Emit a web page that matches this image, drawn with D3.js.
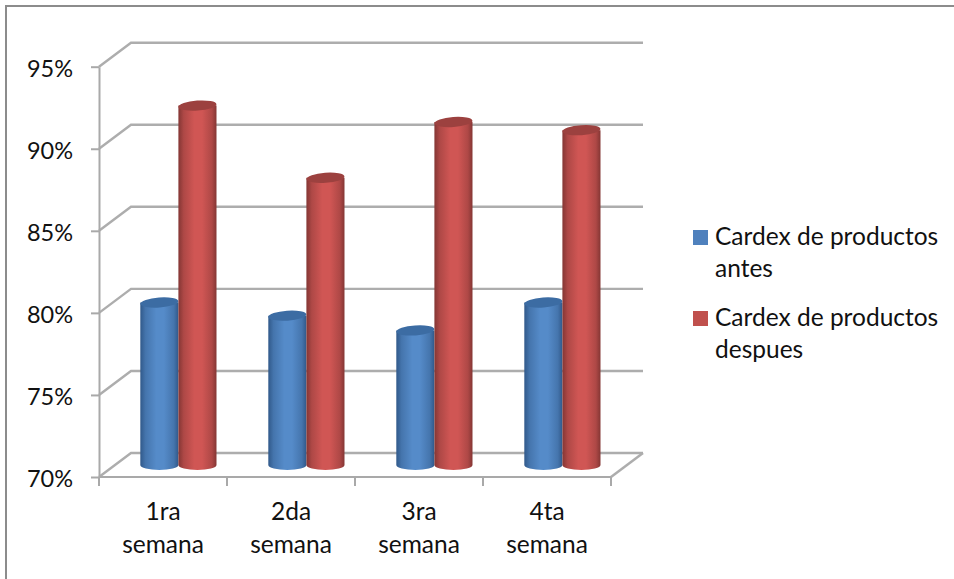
<!DOCTYPE html>
<html lang="es">
<head>
<meta charset="utf-8">
<script src="https://cdn.jsdelivr.net/npm/d3@7"></script>
<style>
  html, body { margin: 0; padding: 0; background: #fff; }
  svg { display: block; }
  text { font-family: Lato, "Open Sans", sans-serif; fill: #111; }
</style>
</head>
<body>
<svg id="chart" width="954" height="579"></svg>
<script>
// Weekly share of product cards, before and after
const categories = ["1ra semana", "2da semana", "3ra semana", "4ta semana"];
const seriesNames = ["Cardex de productos antes", "Cardex de productos despues"];
const antes = [79.9, 79.1, 78.2, 79.9];
const despues = [91.9, 87.5, 90.9, 90.4];
const yTicks = [70, 75, 80, 85, 90, 95];

const legendLines = [["Cardex de productos", "antes"], ["Cardex de productos", "despues"]];
const fillMid = ["#558bc9", "#d05654"];
const fillEdge = ["#31598a", "#843634"];
const fillTop = ["#3c6ca3", "#9c413f"];

const svg = d3.select("#chart");
const plot = { left: 99, right: 611, top: 66.7, bottom: 477 };
const depth = { x: 32, y: -24 };

const y = d3.scaleLinear().domain([70, 95]).range([plot.bottom, plot.top]);
const x0 = d3.scaleBand().domain(categories).range([plot.left, plot.right]);
const x1 = d3.scaleBand().domain(seriesNames).range([0, x0.bandwidth()])
  .paddingInner(0).paddingOuter(0.68);

// Chart frame: only the left and top edges are visible
svg.append("path")
  .attr("d", "M6,579V6H954")
  .attr("fill", "none").attr("stroke", "#8c8c8c").attr("stroke-width", 2);

// Horizontal cylinder shading
const defs = svg.append("defs");
seriesNames.forEach((_, i) => {
  const g = defs.append("linearGradient").attr("id", "cyl" + i);
  [[0, fillEdge[i]], [0.14, d3.interpolateRgb(fillEdge[i], fillMid[i])(0.55)],
   [0.42, fillMid[i]], [0.62, fillMid[i]],
   [0.88, d3.interpolateRgb(fillEdge[i], fillMid[i])(0.55)], [1, fillEdge[i]]]
    .forEach(([o, c]) => g.append("stop").attr("offset", o).attr("stop-color", c));
});

// Back wall gridlines with their side-wall diagonals
const grid = svg.append("g").attr("fill", "none").attr("stroke", "#adadad").attr("stroke-width", 2.4);
grid.selectAll("path").data(yTicks).join("path")
  .attr("d", d => `M${plot.left},${y(d)}L${plot.left + depth.x},${y(d) + depth.y}H${plot.right + depth.x}`);
grid.append("path")
  .attr("d", `M${plot.right},${plot.bottom}L${plot.right + depth.x},${plot.bottom + depth.y}`);

// Axes
const yAxis = d3.axisLeft(y).tickValues(yTicks).tickFormat(d => d + "%").tickSize(8).tickSizeOuter(0);
const xAxis = d3.axisBottom(x0).tickSize(0).tickSizeOuter(0);

const gy = svg.append("g").attr("transform", `translate(${plot.left},0)`).call(yAxis);
gy.selectAll("text").attr("font-size", 23.5).attr("x", -26).attr("dy", "0.4em");

const gx = svg.append("g").attr("transform", `translate(0,${plot.bottom})`).call(xAxis);
gx.selectAll("text").each(function (d) {
  const words = d.split(" ");
  const t = d3.select(this).text(null).attr("font-size", 24.5).attr("y", 0).attr("dy", null);
  words.forEach((w, i) => t.append("tspan").attr("x", 0).attr("y", 43 + i * 33).text(w));
});

// Category separators sit on the band edges, not the band centres
gx.selectAll("line.sep").data(d3.range(categories.length + 1)).join("line")
  .attr("class", "sep")
  .attr("x1", i => plot.left + i * x0.bandwidth()).attr("x2", i => plot.left + i * x0.bandwidth())
  .attr("y1", 0).attr("y2", 9);
gx.selectAll(".domain").remove();
gx.append("line").attr("class", "sep-base").attr("x1", plot.left).attr("x2", plot.right).attr("y1", 0).attr("y2", 0);

svg.selectAll(".domain, .tick line, line.sep, line.sep-base")
  .attr("stroke", "#a9a9a9").attr("stroke-width", 2);
gx.selectAll(".tick line").remove();

// Cylinders stand on the middle of the floor
const rowsOf = [antes, despues];
const floorY = plot.bottom + depth.y / 2;
const ry = 5;
const bars = svg.append("g").attr("transform", "translate(-0.6,0)");
seriesNames.forEach((name, s) => {
  const g = bars.append("g");
  const rx = x1.bandwidth() / 2;
  const data = categories.map((c, i) => ({ c, v: rowsOf[s][i] }));
  const cx = d => x0(d.c) + x1(name) + rx + depth.x / 2;
  const topY = d => y(d.v) + depth.y / 2;
  g.selectAll("path").data(data).join("path")
    .attr("fill", `url(#cyl${s})`)
    .attr("d", d => `M${cx(d) - rx},${topY(d)}V${floorY}` +
      `A${rx},${ry} 0 0 0 ${cx(d) + rx},${floorY}V${topY(d)}Z`);
  g.selectAll("ellipse").data(data).join("ellipse")
    .attr("cx", cx).attr("cy", topY).attr("rx", rx).attr("ry", ry)
    .attr("fill", fillTop[s])
    .attr("transform", d => `rotate(-4 ${cx(d)} ${topY(d)})`);
});

// Legend
const legend = svg.append("g");
const legendY = d3.scaleBand().domain(seriesNames).range([230, 392]);
seriesNames.forEach((name, s) => {
  const top = legendY(name);
  legend.append("rect").attr("x", 693).attr("y", top).attr("width", 15).attr("height", 15)
    .attr("fill", d3.color(s ? "#c0504d" : "#4f81bd"));
  legendLines[s].forEach((line, i) => {
    legend.append("text").attr("x", 715).attr("y", top + 15 + i * 32)
      .attr("font-size", 24.5).text(line);
  });
});
</script>
</body>
</html>
